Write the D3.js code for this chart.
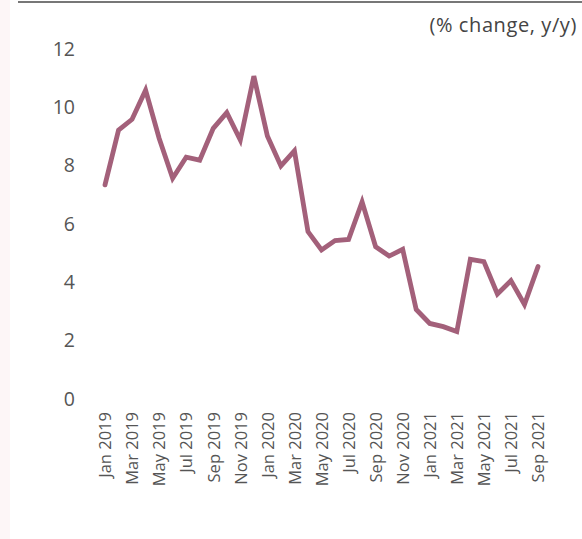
<!DOCTYPE html>
<html><head><meta charset="utf-8">
<script src="https://cdn.jsdelivr.net/npm/d3@7"></script>
<style>
html,body{margin:0;padding:0;background:#fff;}
svg{display:block;}
text{font-family:"Open Sans", "DejaVu Sans", sans-serif;}
</style></head>
<body>
<svg id="chart" width="582" height="539"></svg>
<script>
const months = ["Jan 2019","Feb 2019","Mar 2019","Apr 2019","May 2019","Jun 2019","Jul 2019","Aug 2019","Sep 2019","Oct 2019","Nov 2019","Dec 2019",
"Jan 2020","Feb 2020","Mar 2020","Apr 2020","May 2020","Jun 2020","Jul 2020","Aug 2020","Sep 2020","Oct 2020","Nov 2020","Dec 2020",
"Jan 2021","Feb 2021","Mar 2021","Apr 2021","May 2021","Jun 2021","Jul 2021","Aug 2021","Sep 2021"];
const values = [7.34,9.22,9.59,10.59,8.94,7.57,8.29,8.19,9.28,9.82,8.88,11.07,
9.02,7.99,8.51,5.74,5.11,5.43,5.47,6.76,5.22,4.90,5.13,3.07,
2.59,2.48,2.31,4.79,4.71,3.60,4.06,3.24,4.54];
const yTicks = [0,2,4,6,8,10,12];
const unitLabel = "(% change, y/y)";

const svg = d3.select("#chart");
svg.append("rect").attr("x",0).attr("y",0).attr("width",10).attr("height",539).attr("fill","#fdf6f7");
svg.append("line").attr("x1",18).attr("x2",582).attr("y1",2).attr("y2",2).attr("stroke","#777").attr("stroke-width",2);

const x = d3.scalePoint().domain(months).range([105,538]);
const y = d3.scaleLinear().domain([0,12]).range([399,49]);

svg.append("text").attr("x",577).attr("y",32).attr("text-anchor","end")
  .attr("font-size",20).attr("letter-spacing","0.6px").attr("fill","#444").text(unitLabel);

const ya = svg.append("g").attr("transform","translate(75,0)")
  .call(d3.axisLeft(y).tickValues(yTicks).tickSize(0).tickPadding(0).tickFormat(d3.format("d")));
ya.select(".domain").remove();
ya.selectAll("text").attr("font-size",19.5).attr("fill","#555").attr("font-family","'Open Sans', sans-serif");

const xa = svg.append("g").attr("transform","translate(0,410)")
  .call(d3.axisBottom(x).tickValues(months.filter((d,i)=>i%2===0)).tickSize(0).tickPadding(0));
xa.select(".domain").remove();
xa.selectAll("text").attr("font-size",16.5).attr("fill","#555").attr("font-family","'Open Sans', sans-serif")
  .attr("transform","rotate(-90)").attr("text-anchor","end").attr("x",-2).attr("y",0).attr("dy","0.35em");

const line = d3.line().x((d,i)=>x(months[i])).y(d=>y(d));
svg.append("path").datum(values).attr("d",line).attr("fill","none")
  .attr("stroke","#a3607a").attr("stroke-width",4.8).attr("stroke-linejoin","miter").attr("stroke-linecap","round");
</script>
</body></html>
